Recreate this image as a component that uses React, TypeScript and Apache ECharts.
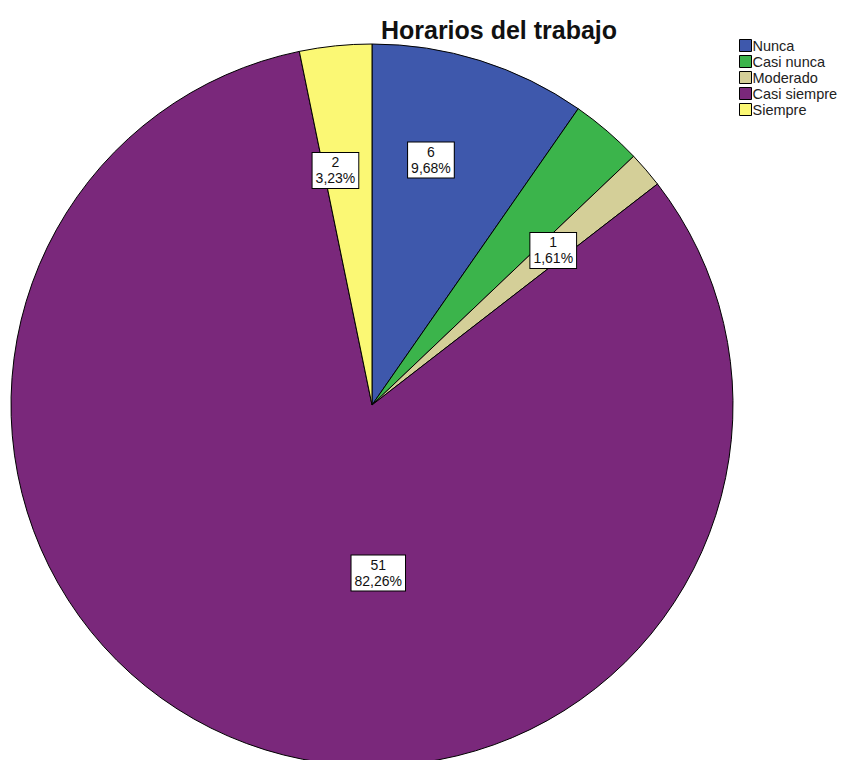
import React, { useEffect, useRef } from "react";
import * as echarts from "echarts";

const categories = ["Nunca", "Casi nunca", "Moderado", "Casi siempre", "Siempre"];
const counts = [6, 2, 1, 51, 2];
const colors = ["#3E58AC", "#3BB44B", "#D4CF98", "#7A287B", "#FBF874"];
const showLabel = [true, false, true, true, true];
const labelOffsets: number[][] = [[4, -70], [0, 0], [42, -35], [70, -4], [-18, -52]];

export default function App() {
  const ref = useRef<HTMLDivElement>(null);
  useEffect(() => {
    document.body.style.margin = "0";
    const chart = echarts.init(ref.current!, null, { renderer: "svg" });
    const total = counts.reduce((a, b) => a + b, 0);
    chart.setOption({
      animation: false,
      backgroundColor: "#ffffff",
      title: {
        text: "Horarios del trabajo",
        left: 494,
        top: 12,
        textAlign: "center",
        textStyle: { fontFamily: "Liberation Sans, Arial", fontSize: 25, fontWeight: "bold", color: "#111" },
      },
      legend: {
        orient: "vertical",
        left: 734,
        top: 33,
        icon: "rect",
        itemWidth: 12,
        itemHeight: 12,
        itemGap: 1,
        data: categories,
        textStyle: {
          fontFamily: "Liberation Sans, Arial",
          fontSize: 14.5,
          lineHeight: 14,
          color: "#222",
          padding: [0, 0, 0, -4],
        },
        itemStyle: { borderColor: "#000", borderWidth: 1 },
      },
      series: [
        {
          type: "pie",
          center: [372, 405],
          radius: 361,
          startAngle: 90,
          clockwise: true,
          avoidLabelOverlap: false,
          itemStyle: { borderColor: "#000", borderWidth: 1 },
          emphasis: { disabled: true },
          labelLine: { show: false },
          data: categories.map((name, i) => ({
            name,
            value: counts[i],
            itemStyle: { color: colors[i] },
            label: {
              show: showLabel[i],
              position: "inside",
              offset: labelOffsets[i],
              formatter: () =>
                counts[i] + "\n" + ((counts[i] / total) * 100).toFixed(2).replace(".", ",") + "%",
              backgroundColor: "#ffffff",
              borderColor: "#000",
              borderWidth: 1,
              padding: [2, 3, 1, 3],
              color: "#111",
              fontFamily: "Liberation Sans, Arial",
              fontSize: 14,
              lineHeight: 16,
              align: "center",
            },
          })),
        },
      ],
    });
    return () => chart.dispose();
  }, []);
  return <div ref={ref} style={{ width: 857, height: 760 }} />;
}
